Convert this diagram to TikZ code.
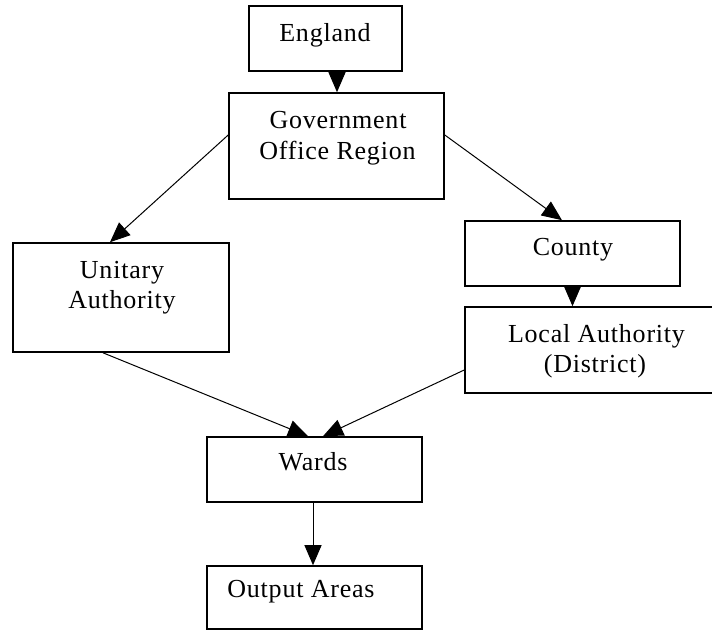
\documentclass[tikz,border=0pt]{standalone}
\usepackage{fontspec}
\setmainfont{Liberation Serif}[LetterSpace=3]
\usetikzlibrary{arrows.meta}
\begin{document}
\begin{tikzpicture}[x=1pt,y=-1pt,
  box/.style={draw=black,line width=1.6pt,rectangle,inner sep=0pt},
  lbl/.style={font=\fontsize{26}{31}\selectfont,anchor=base,inner sep=0pt},
  arr/.style={line width=1pt,-{Triangle[length=20pt,width=17pt]}}]
\useasboundingbox (0,0) rectangle (712,630);
\fill[white] (0,0) rectangle (712,630);
% boxes
\node[box,minimum width=153pt,minimum height=65pt] (eng) at (325.5,38.5) {};
\node[box,minimum width=215pt,minimum height=106pt] (gor) at (336.5,146) {};
\node[box,minimum width=216pt,minimum height=109pt] (ua) at (121,297.5) {};
\node[box,minimum width=215pt,minimum height=65pt] (cty) at (572.5,253.5) {};
\node[box,minimum width=263pt,minimum height=86pt] (la) at (596.5,350) {};
\node[box,minimum width=215pt,minimum height=65pt] (wards) at (314.5,469.5) {};
\node[box,minimum width=215pt,minimum height=63pt] (out) at (314.5,597.5) {};
% texts
\node[lbl] (t1) at (325,41) {England};
\node[lbl] (t2) at (338,128) {Government};
\node[lbl] (t3) at (337.5,159) {Office Region};
\node[lbl] (t4) at (122,278) {Unitary};
\node[lbl] (t5) at (122,308) {Authority};
\node[lbl] (t6) at (573,255) {County};
\node[lbl] (t7) at (596.5,342) {Local Authority};
\node[lbl] (t8) at (595,372) {(District)};
\node[lbl] (t9) at (313,470) {Wards};
\node[lbl] (t10) at (301,597) {Output Areas};
% connectors
\draw[arr] ([xshift=11.5pt]eng.south) -- ([xshift=11.5pt]eng.south |- gor.north);
\draw[arr] ([yshift=11pt]gor.west) -- ([xshift=-11pt]ua.north);
\draw[arr] ([yshift=11pt]gor.east) -- ([xshift=-10.5pt]cty.north);
\draw[arr] (cty.south) -- (cty.south |- la.north);
\draw[arr] ([xshift=-18pt]ua.south) -- ([xshift=-6.5pt]wards.north);
\draw[arr] ([yshift=-20pt]la.west) -- ([xshift=8.5pt]wards.north);
\draw[arr] ([xshift=-1.5pt]wards.south) -- ([xshift=-1.5pt]out.north);
\end{tikzpicture}
\end{document}
